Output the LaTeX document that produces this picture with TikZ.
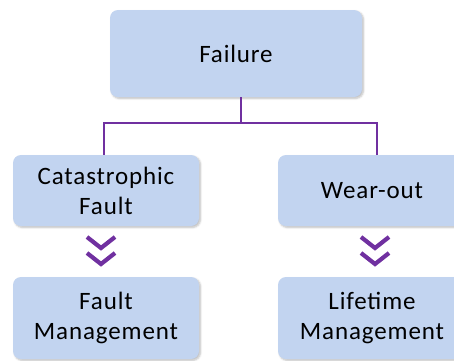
\documentclass[tikz,border=0pt]{standalone}
\usepackage{fontspec}
\setmainfont{Carlito}
\usetikzlibrary{shadows.blur,calc}
\definecolor{boxfill}{HTML}{C2D4F0}
\definecolor{conn}{HTML}{7030A0}
\tikzset{
  box/.style={fill=boxfill, rounded corners=8pt, inner sep=0pt, align=center,
    font=\fontsize{25}{30}\selectfont\addfontfeature{LetterSpace=3.5},
    blur shadow={shadow xshift=1.5pt, shadow yshift=-1.5pt, shadow blur steps=5, shadow opacity=25}},
  link/.style={draw=conn, line width=1.8pt},
  chev/.style={draw=conn, line width=4.2pt, miter limit=10}
}
\begin{document}
\begin{tikzpicture}[x=1pt,y=-1pt]
\useasboundingbox (0,0) rectangle (454,360);
\clip (0,0) rectangle (454,360);
\node[box, minimum width=252pt, minimum height=87pt] (fail) at (236,53.5) {Failure};
\node[box, minimum width=186pt, minimum height=71pt] (cat) at (106,190.5) {Catastrophic\\Fault};
\node[box, minimum width=186pt, minimum height=82pt] (fm) at (106,318) {Fault\\Management};
\node[box, minimum width=188pt, minimum height=71pt] (wear) at (372,190.5) {Wear-out};
\node[box, minimum width=188pt, minimum height=82pt] (life) at (372,318) {Lifetime\\Management};
\coordinate (j) at (241,123);
\coordinate (lx) at (104,0);
\coordinate (rx) at (377,0);
\draw[link] (j |- fail.south) -- (j);
\draw[link] (lx |- cat.north) |- (j) -| (rx |- wear.north);
\coordinate (c1) at (101,237);
\coordinate (c2) at (375,237);
\foreach \c in {c1,c2}{
  \draw[chev] ($(\c)+(-14,0)$) -- ($(\c)+(0,11)$) -- ($(\c)+(14,0)$);
  \draw[chev] ($(\c)+(-14,16)$) -- ($(\c)+(0,27)$) -- ($(\c)+(14,16)$);
}
\end{tikzpicture}
\end{document}
